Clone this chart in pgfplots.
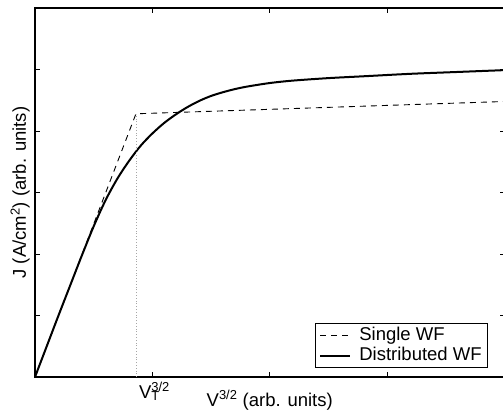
\documentclass[border=0pt]{standalone}
\usepackage{fontspec}
\setmainfont{Liberation Sans}
\usepackage{pgfplots}
\pgfplotsset{compat=1.18}
\begin{document}
\fontsize{18.5bp}{22bp}\selectfont
\begin{tikzpicture}[x=1bp,y=1bp]
\useasboundingbox (-35,-32) rectangle (468,377);
\begin{axis}[
  at={(0,0)}, anchor=south west,
  scale only axis, width=469.5bp, height=369bp,
  xmin=0, xmax=4, ymin=0, ymax=6,
  xtick={1,2,3}, xticklabels={{V\rlap{\textsuperscript{3/2}}\textsubscript{T}},{},{}},
  ytick={1,2,3,4,5}, yticklabels={},
  tick align=inside, major tick length=5bp,
  tick style={black, line width=0.8bp},
  axis line style={line width=1.5bp},
  every tick label/.append style={font=\fontsize{18.5bp}{22bp}\selectfont},
  xticklabel style={yshift=1bp, xshift=-3bp},
  xlabel={V\textsuperscript{3/2} (arb. units)},
  ylabel={J (A/cm\textsuperscript{2}) (arb. units)},
  label style={font=\fontsize{18.5bp}{22bp}\selectfont},
  xlabel style={at={(axis description cs:0.5,0)}, anchor=north, yshift=-7bp},
  ylabel style={at={(axis description cs:0,0.5)}, anchor=south, yshift=-1bp},
  legend style={at={(rel axis cs:0.965,0.024)}, anchor=south east,
    draw=black, line width=0.8bp, font=\fontsize{18.5bp}{22bp}\selectfont,
    inner xsep=4bp, inner ysep=2bp, row sep=0bp},
  legend cell align=left,
  legend image code/.code={\draw[#1] (0bp,0bp) -- (30bp,0bp); \path (36bp,0bp);},
]
\addplot[black, line width=0.9bp, dash pattern=on 6bp off 5bp] coordinates {(0,0) (0.86,4.28) (4,4.48)};
\addlegendentry{Single WF}
\addplot[black, line width=2bp, smooth] coordinates {
(0.0,0.00) (0.1,0.50) (0.2,1.00) (0.3,1.49) (0.4,1.98) (0.5,2.45) (0.6,2.87)
(0.7,3.22) (0.8,3.51) (0.9,3.76) (1.0,3.96) (1.1,4.13) (1.2,4.27) (1.3,4.39)
(1.4,4.49) (1.5,4.57) (1.6,4.63) (1.7,4.68) (1.8,4.72) (2.0,4.78) (2.2,4.82)
(2.5,4.86) (2.8,4.89) (3.2,4.93) (3.6,4.96) (4.0,4.99)};
\addlegendentry{Distributed WF}
\addplot[gray!70, line width=0.7bp, dash pattern=on 0.8bp off 2bp, forget plot] coordinates {(0.86,0) (0.86,4.28)};
\end{axis}
\end{tikzpicture}
\end{document}
